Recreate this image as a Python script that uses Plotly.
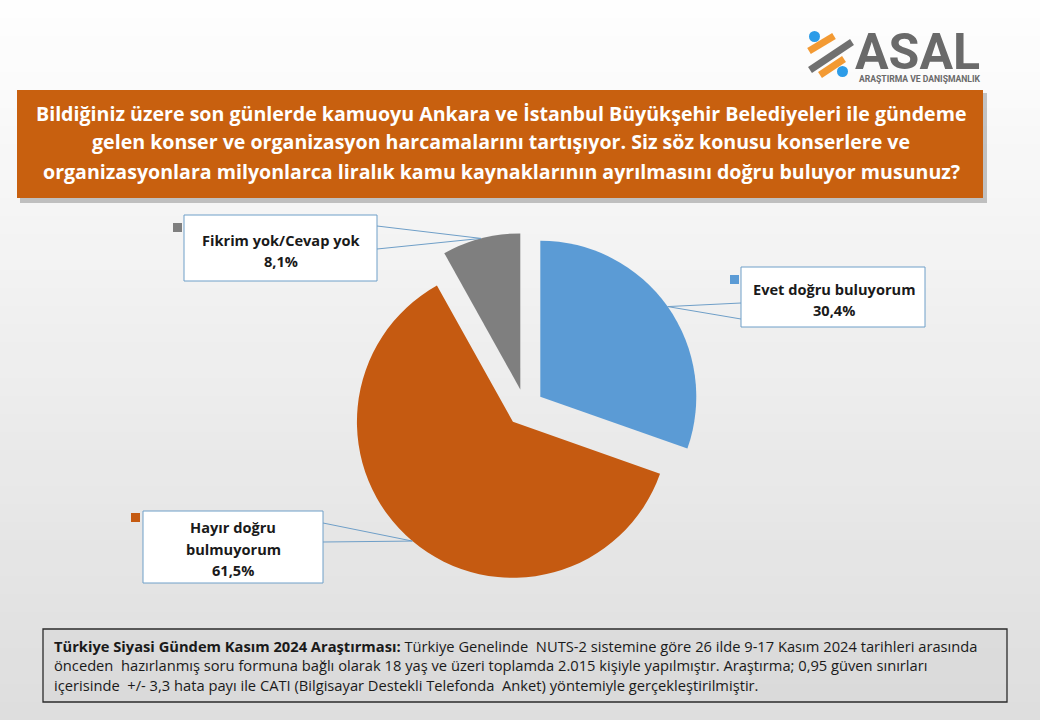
import math
import plotly.graph_objects as go

# ---------------- data ----------------
categories = ["Evet doğru buluyorum", "Hayır doğru bulmuyorum", "Fikrim yok/Cevap yok"]
values = [30.4, 61.5, 8.1]
value_labels = ["30,4%", "61,5%", "8,1%"]
label_lines = [["Evet doğru buluyorum"], ["Hayır doğru", "bulmuyorum"], ["Fikrim yok/Cevap yok"]]
colors = ["#5B9BD5", "#C55A11", "#7F7F7F"]
pulls = [0.12, 0.12, 0.12]

title_lines = [
    "Bildiğiniz üzere son günlerde kamuoyu Ankara ve İstanbul Büyükşehir Belediyeleri ile gündeme",
    "gelen konser ve organizasyon harcamalarını tartışıyor. Siz söz konusu konserlere ve",
    "organizasyonlara milyonlarca liralık kamu kaynaklarının ayrılmasını doğru buluyor musunuz?",
]
footer_lines = [
    "<b>Türkiye Siyasi Gündem Kasım 2024 Araştırması:</b> Türkiye Genelinde  NUTS-2 sistemine göre 26 ilde 9-17 Kasım 2024 tarihleri arasında",
    "önceden  hazırlanmış soru formuna bağlı olarak 18 yaş ve üzeri toplamda 2.015 kişiyle yapılmıştır. Araştırma; 0,95 güven sınırları",
    "içerisinde  +/- 3,3 hata payı ile CATI (Bilgisayar Destekli Telefonda  Anket) yöntemiyle gerçekleştirilmiştir.",
]

W, H = 1040, 720
FONT = "'Open Sans', Lato, sans-serif"


def px(x):
    return x / W


def py(y):
    return 1 - y / H


# pie geometry (pixels)
CX, CY, R = 525, 407.5, 156
maxpull = max(pulls)
RD = R * (1 + maxpull)

shapes = []
annotations = []

# background gradient
n_bands = 40
for i in range(n_bands):
    y0 = i * H / n_bands
    y1 = (i + 1) * H / n_bands
    t = i / (n_bands - 1)
    c = int(round(254 - t * 32))
    shapes.append(dict(type="rect", xref="paper", yref="paper", x0=0, x1=1,
                       y0=py(y1), y1=py(y0), line=dict(width=0),
                       fillcolor=f"rgb({c},{c},{c})", layer="below"))

# title box with shadow
shapes.append(dict(type="rect", xref="paper", yref="paper", x0=px(20), x1=px(987),
                   y0=py(203), y1=py(93), line=dict(width=0),
                   fillcolor="rgba(0,0,0,0.22)", layer="below"))
shapes.append(dict(type="rect", xref="paper", yref="paper", x0=px(17), x1=px(983),
                   y0=py(198), y1=py(90), line=dict(width=0),
                   fillcolor="#C8600F", layer="below"))
for ln, yy in zip(title_lines, [113, 142, 171]):
    annotations.append(dict(text=f"<b>{ln}</b>", x=px(501), y=py(yy), xref="paper", yref="paper",
                            xanchor="center", yanchor="middle", showarrow=False,
                            font=dict(family=FONT, size=19.6, color="white")))

# footer box
shapes.append(dict(type="rect", xref="paper", yref="paper", x0=px(43), x1=px(1007),
                   y0=py(702), y1=py(629), line=dict(width=1.3, color="#2b2b2b"),
                   fillcolor="rgba(0,0,0,0.02)", layer="below"))
for ln, yy in zip(footer_lines, [646, 665, 685]):
    annotations.append(dict(text=ln, x=px(52), y=py(yy), xref="paper", yref="paper",
                            xanchor="left", yanchor="middle", showarrow=False,
                            font=dict(family=FONT, size=14.7, color="#1a1a1a")))

# logo
annotations.append(dict(text="<b>ASAL</b>", x=px(853), y=py(52), xref="paper", yref="paper",
                        xanchor="left", yanchor="middle", showarrow=False,
                        font=dict(family="Roboto, sans-serif", size=50, color="#6a6a6a")))
annotations.append(dict(text="<b>ARAŞTIRMA VE DANIŞMANLIK</b>", x=px(857), y=py(79), xref="paper", yref="paper",
                        xanchor="left", yanchor="middle", showarrow=False,
                        font=dict(family="Roboto, sans-serif", size=8.6, color="#6a6a6a")))
shapes += [
    dict(type="line", xref="paper", yref="paper", x0=px(809), y0=py(51), x1=px(834), y1=py(36),
         line=dict(color="#F39A33", width=7)),
    dict(type="line", xref="paper", yref="paper", x0=px(810), y0=py(70), x1=px(852), y1=py(42),
         line=dict(color="#707070", width=7)),
    dict(type="line", xref="paper", yref="paper", x0=px(820), y0=py(75), x1=px(844), y1=py(59),
         line=dict(color="#F39A33", width=7)),
    dict(type="circle", xref="paper", yref="paper", x0=px(809), x1=px(820), y0=py(42), y1=py(31),
         line=dict(width=0), fillcolor="#2D9CE8"),
    dict(type="circle", xref="paper", yref="paper", x0=px(837), x1=px(848), y0=py(77), y1=py(66),
         line=dict(width=0), fillcolor="#2D9CE8"),
]

# label boxes (pixel boxes), attachment edges and text line positions
boxes = [
    dict(x0=741, x1=925, y0=267, y1=327, attach=(741, [303, 319]), mark=(730, 275), text_y=[289, 310], cx=834),
    dict(x0=143, x1=323, y0=511, y1=583, attach=(323, [523, 542]), mark=(131, 513), text_y=[527, 549, 570], cx=233),
    dict(x0=184, x1=377, y0=215, y1=281, attach=(377, [226, 249]), mark=(173, 223), text_y=[240, 261], cx=281),
]

total = sum(values)
cum = 0.0
for i, v in enumerate(values):
    mid = 2 * math.pi * (cum + v / 2) / total
    cum += v
    dx, dy = math.sin(mid), -math.cos(mid)
    ax = CX + (pulls[i] * R + R) * dx
    ay = CY + (pulls[i] * R + R) * dy
    b = boxes[i]
    ex, eys = b["attach"]
    for ey in eys:
        shapes.append(dict(type="line", xref="paper", yref="paper", x0=px(ex), y0=py(ey),
                           x1=px(ax), y1=py(ay), line=dict(color="#6F9FC8", width=1)))
    shapes.append(dict(type="rect", xref="paper", yref="paper", x0=px(b["x0"]), x1=px(b["x1"]),
                       y0=py(b["y1"]), y1=py(b["y0"]), line=dict(color="#6F9FC8", width=1),
                       fillcolor="white"))
    mx, my = b["mark"]
    shapes.append(dict(type="rect", xref="paper", yref="paper", x0=px(mx), x1=px(mx + 9),
                       y0=py(my + 9), y1=py(my), line=dict(width=0), fillcolor=colors[i]))
    lines = label_lines[i] + [value_labels[i]]
    for ln, yy in zip(lines, b["text_y"]):
        annotations.append(dict(text=f"<b>{ln}</b>", x=px(b["cx"]), y=py(yy), xref="paper", yref="paper",
                                xanchor="center", yanchor="middle", showarrow=False,
                                font=dict(family=FONT, size=14.6, color="#1a1a1a")))

fig = go.Figure(go.Pie(
    labels=categories, values=values, sort=False, direction="clockwise", rotation=0,
    pull=pulls, marker=dict(colors=colors, line=dict(width=0)),
    textinfo="none", hoverinfo="label+percent", showlegend=False,
    domain=dict(x=[px(CX - RD), px(CX + RD)], y=[py(CY + RD), py(CY - RD)]),
))
fig.update_layout(
    width=W, height=H, margin=dict(l=0, r=0, t=0, b=0),
    paper_bgcolor="white", plot_bgcolor="white",
    shapes=shapes, annotations=annotations, showlegend=False,
)
fig.write_html("out.html")
